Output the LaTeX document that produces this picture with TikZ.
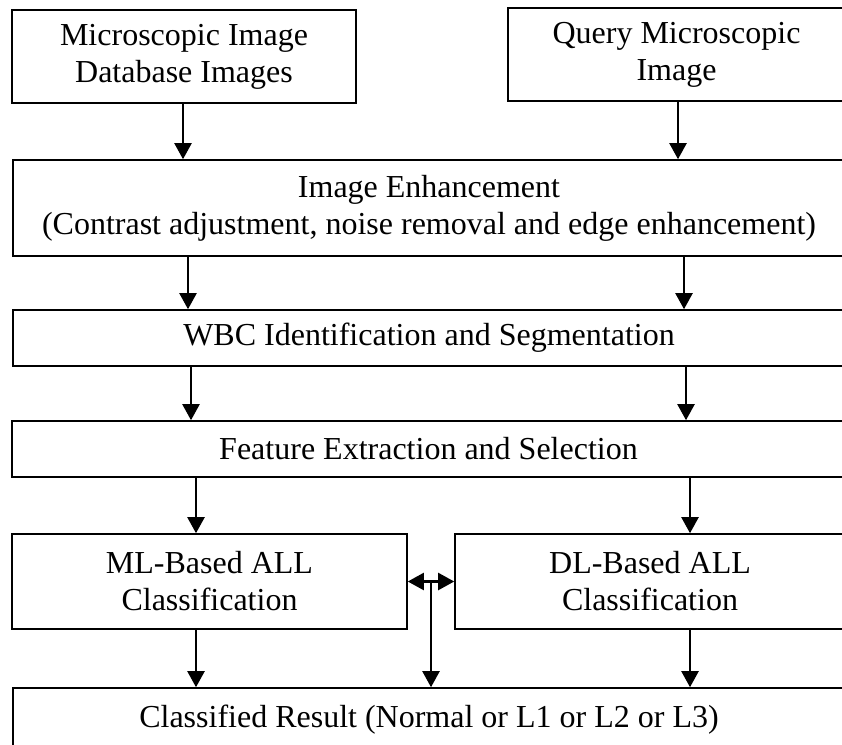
\documentclass[tikz,border=0pt]{standalone}
\usepackage{fontspec}
\setmainfont{Liberation Serif}
\usetikzlibrary{arrows.meta}
\begin{document}
\begin{tikzpicture}[x=1pt,y=-1pt,
  box/.style={draw=black, line width=1.6pt, align=center, inner sep=0pt,
    font=\fontsize{32}{37}\selectfont},
  arr/.style={line width=2.2pt, -{Triangle[length=16pt,width=17pt]}},
  darr/.style={line width=2.2pt, {Triangle[length=16pt,width=17pt]}-{Triangle[length=16pt,width=17pt]}}]
\useasboundingbox (0,0) rectangle (842,744);
\fill[white] (0,0) rectangle (842,744);
\node[box, minimum width=344pt, minimum height=93pt] (a) at (184,56.5) {Microscopic Image\\Database Images};
\node[box, minimum width=337pt, minimum height=93pt] (b) at (676.5,54.5) {Query Microscopic\\Image};
\node[box, minimum width=832pt, minimum height=96pt] (e) at (429,208) {Image Enhancement\\(Contrast adjustment, noise removal and edge enhancement)};
\node[box, minimum width=832pt, minimum height=56pt] (w) at (429,338) {WBC Identification and Segmentation};
\node[box, minimum width=833pt, minimum height=56pt] (f) at (428.5,449) {Feature Extraction and Selection};
\node[box, minimum width=395pt, minimum height=95pt] (ml) at (209.5,581.5) {ML-Based ALL\\Classification};
\node[box, minimum width=390pt, minimum height=95pt] (dl) at (650,581.5) {DL-Based ALL\\Classification};
\node[box, minimum width=832pt, minimum height=64pt] (r) at (429,720) {Classified Result (Normal or L1 or L2 or L3)};
\draw[arr] (a.south -| 183,0) -- (e.north -| 183,0);
\draw[arr] (b.south -| 678,0) -- (e.north -| 678,0);
\draw[arr] (e.south -| 188,0) -- (w.north -| 188,0);
\draw[arr] (e.south -| 684,0) -- (w.north -| 684,0);
\draw[arr] (w.south -| 191,0) -- (f.north -| 191,0);
\draw[arr] (w.south -| 686,0) -- (f.north -| 686,0);
\draw[arr] (f.south -| 196,0) -- (ml.north -| 196,0);
\draw[arr] (f.south -| 690,0) -- (dl.north -| 690,0);
\draw[arr] (ml.south -| 196,0) -- (r.north -| 196,0);
\draw[arr] (dl.south -| 690,0) -- (r.north -| 690,0);
\draw[darr] (ml.east) -- (dl.west);
\coordinate (j) at (431,581.5);
\draw[arr] (j) -- (j |- r.north);
\end{tikzpicture}
\end{document}
